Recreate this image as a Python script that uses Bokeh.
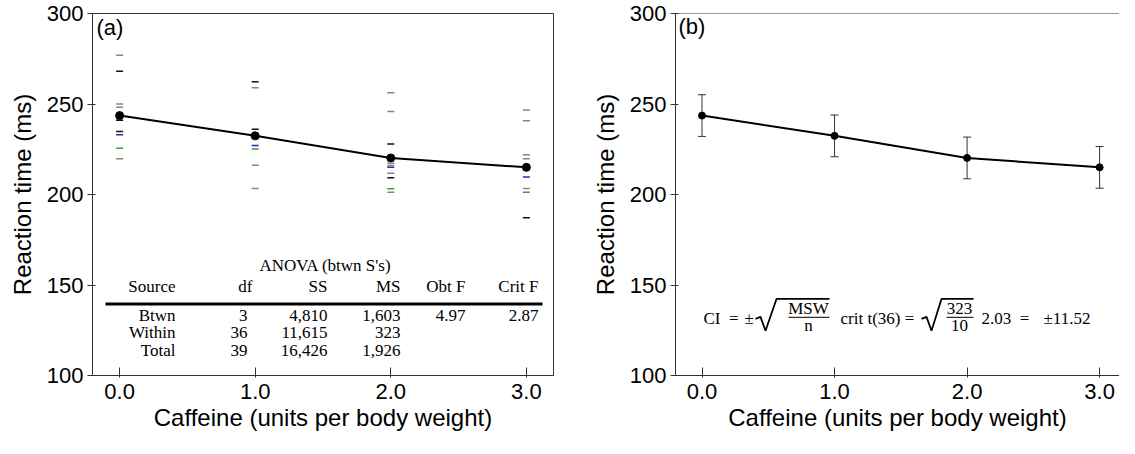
from bokeh.plotting import figure
from bokeh.models import Label, Span, FixedTicker, Range1d, ColumnDataSource, Whisker, TeeHead
from bokeh.layouts import row
from bokeh.embed import file_html
from bokeh.resources import INLINE

# ---------------- data ----------------
caffeine = [0.0, 1.0, 2.0, 3.0]
x_tick_labels = ["0.0", "1.0", "2.0", "3.0"]
y_ticks = [100, 150, 200, 250, 300]
mean_rt = [243.6, 232.4, 220.2, 215.0]
ci_half = 11.52

rt_c0 = [276.9, 268.1, 250.0, 248.2, 242.0, 241.0, 234.8, 233.0, 225.6, 219.8]
col_c0 = ["g", "k", "g", "g", "g", "k", "k", "b", "G", "g"]
rt_c1 = [262.3, 259.0, 236.1, 233.0, 232.0, 231.0, 227.1, 225.1, 216.1, 203.3]
col_c1 = ["k", "g", "k", "g", "k", "g", "b", "G", "g", "g"]
rt_c2 = [256.2, 245.8, 227.9, 217.3, 216.0, 215.0, 211.8, 209.3, 203.2, 201.3]
col_c2 = ["g", "g", "k", "g", "g", "b", "g", "k", "G", "g"]
rt_c3 = [246.7, 240.8, 222.0, 219.8, 215.0, 214.0, 209.6, 203.3, 201.2, 187.2]
col_c3 = ["g", "g", "g", "g", "k", "g", "b", "g", "G", "k"]

anova_title = "ANOVA (btwn S's)"
anova_headers = ["Source", "df", "SS", "MS", "Obt F", "Crit F"]
anova_source = ["Btwn", "Within", "Total"]
anova_df = ["3", "36", "39"]
anova_ss = ["4,810", "11,615", "16,426"]
anova_ms = ["1,603", "323", "1,926"]
anova_obtf = ["4.97", "", ""]
anova_critf = ["2.87", "", ""]

ci_msw = "323"
ci_n = "10"
ci_t = "2.03"
ci_df = "36"

# ---------------- styling helpers ----------------
PALETTE = {"g": "#858585", "k": "#111111", "b": "#2a2acc", "G": "#3a9e3a"}
SANS = "Liberation Sans"
SERIF = "Liberation Serif"
NB = "\u00a0"

FW_A, FW_B, FH = 461, 444, 362
XA_END, XB_END = 3.2, 3.15
PXA = FW_A / (XA_END + 0.2)
PXB = FW_B / (XB_END + 0.2)


def ax(px):
    # reference pixel offset from panel (a) frame left -> data
    return (px - 97) / PXA - 0.2


def bx(px):
    # reference pixel offset from panel (b) frame left -> data
    return (px - 682) / PXB - 0.2


def yy(py):
    return 300 - (py - 18) / 1.82


def style(p):
    p.xgrid.visible = False
    p.ygrid.visible = False
    p.background_fill_color = "white"
    p.border_fill_color = "white"
    for a in (p.xaxis[0], p.yaxis[0]):
        a.axis_line_color = "#333333"
        a.major_tick_line_color = "#333333"
        a.minor_tick_line_color = None
        a.major_label_text_font = SANS
        a.major_label_text_font_size = "22px"
        a.major_label_text_color = "black"
        a.axis_label_text_font = SANS
        a.axis_label_text_font_size = "24px"
        a.axis_label_text_font_style = "normal"
        a.axis_label_text_color = "black"
    p.xaxis.ticker = FixedTicker(ticks=caffeine)
    p.xaxis.major_label_overrides = {c: l for c, l in zip(caffeine, x_tick_labels)}
    p.yaxis.ticker = FixedTicker(ticks=y_ticks)
    p.xaxis.major_tick_in = 8
    p.xaxis.major_tick_out = 2
    p.xaxis.major_label_standoff = 6
    p.xaxis.axis_label_standoff = 2
    p.yaxis.major_tick_in = 3
    p.yaxis.major_tick_out = 5
    p.yaxis.major_label_standoff = 4
    p.yaxis.axis_label_standoff = 8
    p.xaxis.axis_label = "Caffeine (units per body weight)"
    p.yaxis.axis_label = "Reaction time (ms)"


def lab(p, x, y, text, font=SERIF, size="17px", align="left", baseline="middle"):
    p.add_layout(Label(x=x, y=y, text=text, text_font=font, text_font_size=size,
                       text_align=align, text_baseline=baseline, text_color="black"))


# ---------------- panel (a) ----------------
p1 = figure(frame_width=FW_A, frame_height=FH, x_range=Range1d(-0.2, XA_END),
            y_range=Range1d(100, 300), output_backend="svg", toolbar_location=None,
            min_border_left=92, min_border_right=30, min_border_top=13, min_border_bottom=60)
style(p1)
p1.outline_line_color = "#333333"
p1.outline_line_width = 1

for xc, vals, cols in zip(caffeine, [rt_c0, rt_c1, rt_c2, rt_c3], [col_c0, col_c1, col_c2, col_c3]):
    src = ColumnDataSource(dict(x=[xc] * len(vals), y=vals, c=[PALETTE[c] for c in cols]))
    p1.dash("x", "y", source=src, size=7, line_width=1.5, line_color="c")

p1.line(caffeine, mean_rt, line_color="black", line_width=2)
p1.scatter(caffeine, mean_rt, size=8, fill_color="black", line_color="black")

lab(p1, ax(101), yy(32), "(a)", font=SANS, size="22px")

# ANOVA table
lab(p1, ax(330), yy(271), anova_title, align="center")
head_right = [180, 257, 332, 405, 470, 543]
val_right = [180, 252, 332, 405, 470, 543]
for h, xr in zip(anova_headers, head_right):
    lab(p1, ax(xr), yy(293), h, align="right")
p1.line([ax(110), ax(547)], [yy(310), yy(310)], line_color="black", line_width=3)
row_y = [322, 339, 357]
columns = [anova_source, anova_df, anova_ss, anova_ms, anova_obtf, anova_critf]
for i, ry in enumerate(row_y):
    for col, xr in zip(columns, val_right):
        if col[i]:
            lab(p1, ax(xr), yy(ry), col[i], align="right")

# ---------------- panel (b) ----------------
p2 = figure(frame_width=FW_B, frame_height=FH, x_range=Range1d(-0.2, XB_END),
            y_range=Range1d(100, 300), output_backend="svg", toolbar_location=None,
            min_border_left=92, min_border_right=0, min_border_top=13, min_border_bottom=60)
style(p2)
p2.outline_line_color = None
p2.add_layout(Span(location=300, dimension="width", line_color="#333333", line_width=1))

upper = [m + ci_half for m in mean_rt]
lower = [m - ci_half for m in mean_rt]
esrc = ColumnDataSource(dict(x=caffeine, upper=upper, lower=lower))
p2.add_layout(Whisker(source=esrc, base="x", upper="upper", lower="lower",
                      line_color="#333333", line_width=1,
                      upper_head=TeeHead(size=8, line_color="#333333", line_width=1),
                      lower_head=TeeHead(size=8, line_color="#333333", line_width=1)))
p2.line(caffeine, mean_rt, line_color="black", line_width=2)
p2.scatter(caffeine, mean_rt, size=7, fill_color="black", line_color="black")

lab(p2, bx(685), yy(31), "(b)", font=SANS, size="22px")

# CI formula
fs = "17px"
lab(p2, bx(710), yy(325), "CI" + NB + NB + "=", size=fs)
lab(p2, bx(751), yy(325), "±", size=fs)
p2.line([bx(762), bx(767), bx(772), bx(783), bx(836)],
        [yy(325), yy(323), yy(337), yy(305), yy(305)], line_color="black", line_width=1.8)
lab(p2, bx(815), yy(315), "MSW", size=fs, align="center")
p2.line([bx(795), bx(836)], [yy(323.5), yy(323.5)], line_color="black", line_width=1)
lab(p2, bx(815), yy(332), "n", size=fs, align="center")
lab(p2, bx(847), yy(325), "crit t(" + ci_df + ")" + NB + "=", size=fs)
p2.line([bx(928), bx(933), bx(938), bx(948), bx(980)],
        [yy(325), yy(323), yy(337), yy(305), yy(305)], line_color="black", line_width=1.8)
lab(p2, bx(966), yy(315), ci_msw, size=fs, align="center")
p2.line([bx(953), bx(980)], [yy(323.5), yy(323.5)], line_color="black", line_width=1)
lab(p2, bx(966), yy(332), ci_n, size=fs, align="center")
lab(p2, bx(988), yy(325), ci_t + NB + NB + "=", size=fs)
lab(p2, bx(1050), yy(325), "±" + "{:.2f}".format(ci_half), size=fs)

layout = row(p1, p2)
open("out.html", "w").write(file_html(layout, INLINE))
